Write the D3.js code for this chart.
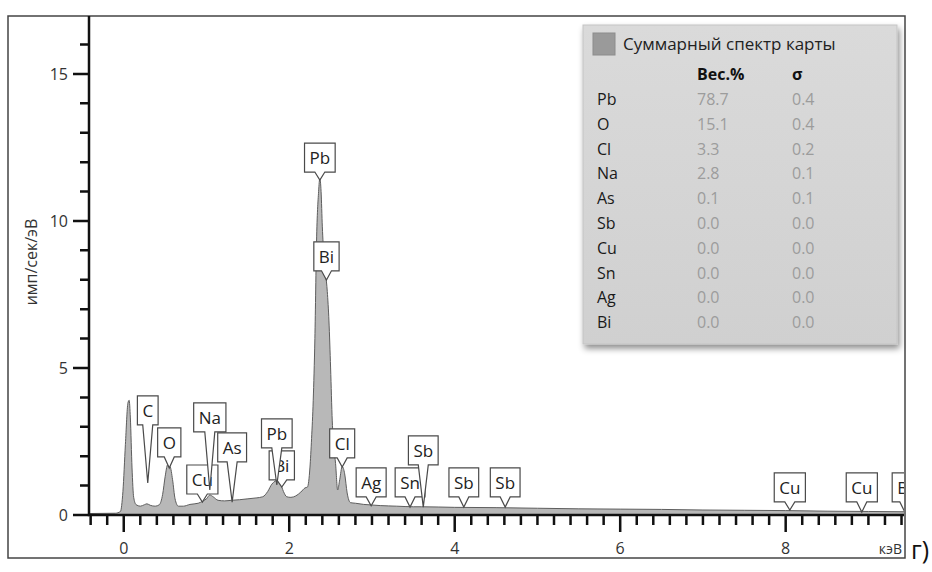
<!DOCTYPE html>
<html>
<head>
<meta charset="utf-8">
<script src="https://cdn.jsdelivr.net/npm/d3@7"></script>
<style>
  body { margin: 0; background: #fff; }
  svg { display: block; font-family: "Open Sans", sans-serif; }
</style>
</head>
<body>
<svg id="chart"></svg>
<script>
// spectrum (keV, imp/sec/eV)
const spectrumKeV = [-0.42, -0.10, -0.04, -0.01, 0.02, 0.05, 0.065, 0.08, 0.10, 0.12, 0.15, 0.20, 0.25, 0.28, 0.32, 0.38, 0.43, 0.47, 0.50, 0.53, 0.56, 0.59, 0.62, 0.66, 0.72, 0.80, 0.90, 0.96, 1.00, 1.04, 1.08, 1.14, 1.22, 1.30, 1.40, 1.50, 1.60, 1.68, 1.74, 1.79, 1.83, 1.86, 1.89, 1.93, 1.97, 2.02, 2.08, 2.14, 2.19, 2.22, 2.25, 2.27, 2.29, 2.31, 2.33, 2.355, 2.37, 2.385, 2.40, 2.42, 2.44, 2.46, 2.48, 2.50, 2.52, 2.54, 2.56, 2.585, 2.61, 2.64, 2.67, 2.70, 2.74, 2.80, 2.90, 3.00, 3.10, 3.30, 3.50, 3.60, 4.00, 4.50, 5.00, 5.50, 6.00, 6.50, 7.00, 7.50, 8.00, 8.50, 9.00, 9.45];
const spectrumCounts = [0.05, 0.06, 0.12, 0.8, 2.4, 3.8, 3.9, 3.3, 1.6, 0.6, 0.35, 0.30, 0.35, 0.38, 0.33, 0.30, 0.35, 0.7, 1.3, 1.7, 1.65, 1.2, 0.55, 0.30, 0.30, 0.36, 0.40, 0.48, 0.55, 0.68, 0.62, 0.50, 0.48, 0.50, 0.52, 0.55, 0.58, 0.62, 0.80, 1.05, 1.15, 1.18, 1.10, 0.80, 0.62, 0.60, 0.65, 0.78, 0.92, 0.95, 1.6, 2.6, 3.9, 6.0, 9.3, 11.0, 11.45, 11.0, 9.8, 8.8, 8.2, 7.6, 6.6, 5.0, 3.2, 2.3, 1.75, 0.85, 1.2, 1.65, 1.4, 0.75, 0.42, 0.40, 0.36, 0.34, 0.32, 0.30, 0.28, 0.28, 0.26, 0.25, 0.23, 0.21, 0.20, 0.19, 0.17, 0.16, 0.15, 0.13, 0.12, 0.11];

// peak markers: element, energy, tip height and box top (counts)
const peakElements = ["C", "O", "Cu", "Na", "As", "Bi", "Pb", "Pb", "Bi", "Cl", "Ag", "Sn", "Sb", "Sb", "Sb", "Cu", "Cu", "Bi"];
const peakKeV = [0.29, 0.55, 0.95, 1.04, 1.31, 1.91, 1.85, 2.37, 2.45, 2.64, 2.99, 3.46, 3.62, 4.11, 4.61, 8.05, 8.92, 9.44];
const peakTip = [1.09, 1.6, 0.44, 0.85, 0.44, 0.95, 1.02, 11.39, 7.99, 1.63, 0.31, 0.27, 0.27, 0.27, 0.27, 0.17, 0.10, 0.10];
const peakBoxTop = [4.05, 2.96, 1.70, 3.81, 2.79, 2.18, 3.27, 12.65, 9.29, 2.93, 1.60, 1.60, 2.69, 1.60, 1.60, 1.43, 1.43, 1.43];

// legend table
const legendTitle = "Суммарный спектр карты";
const legendElements = ["Pb", "O", "Cl", "Na", "As", "Sb", "Cu", "Sn", "Ag", "Bi"];
const legendWeight = ["78.7", "15.1", "3.3", "2.8", "0.1", "0.0", "0.0", "0.0", "0.0", "0.0"];
const legendSigma = ["0.4", "0.4", "0.2", "0.1", "0.1", "0.0", "0.0", "0.0", "0.0", "0.0"];

const xMajor = [0, 2, 4, 6, 8];
const xMinor = d3.range(-2, 48).map(i => i / 5).filter(v => !xMajor.includes(v));
const yMajor = [0, 5, 10, 15];
const yMinor = d3.range(1, 17).filter(v => !yMajor.includes(v));

const width = 932, height = 572;
const plotLeft = 89, plotRight = 904, plotTop = 16, plotBottom = 515;

const svg = d3.select("#chart").attr("width", width).attr("height", height);

const x = d3.scaleLinear().domain([-0.42, 9.43]).range([plotLeft, plotRight]);
const y = d3.scaleLinear().domain([0, 16.97]).range([plotBottom, plotTop]);

const defs = svg.append("defs");
defs.append("clipPath").attr("id", "plotClip")
    .append("rect").attr("x", plotLeft).attr("y", plotTop)
    .attr("width", plotRight - plotLeft).attr("height", plotBottom - plotTop);
const shadow = defs.append("filter").attr("id", "shadow")
    .attr("x", "-5%").attr("y", "-5%").attr("width", "115%").attr("height", "115%");
shadow.append("feDropShadow").attr("dx", 2).attr("dy", 4).attr("stdDeviation", 3)
    .attr("flood-color", "#000").attr("flood-opacity", 0.45);
const grad = defs.append("linearGradient").attr("id", "legendBg")
    .attr("x1", 0).attr("y1", 0).attr("x2", 0).attr("y2", 1);
grad.append("stop").attr("offset", 0).attr("stop-color", "#dadada");
grad.append("stop").attr("offset", 1).attr("stop-color", "#d0d0d0");

// outer frame
svg.append("rect")
    .attr("x", 8).attr("y", 16).attr("width", 897).attr("height", 542)
    .attr("fill", "none").attr("stroke", "#444").attr("stroke-width", 1.5);

// spectrum
const pts = spectrumKeV.map((e, i) => [e, spectrumCounts[i]]);
const plot = svg.append("g").attr("clip-path", "url(#plotClip)");
plot.append("path")
    .datum(pts)
    .attr("fill", "#b8b8b8")
    .attr("stroke", "#5e5e5e")
    .attr("stroke-width", 1)
    .attr("d", d3.area().x(d => x(d[0])).y0(y(0)).y1(d => y(d[1])).curve(d3.curveMonotoneX));

// peak labels
const boxH = 29;
const labels = plot.append("g").attr("class", "labels");
peakElements.forEach((el, i) => {
    const g = labels.append("g");
    const cx = x(peakKeV[i]);
    const tipY = y(peakTip[i]);
    const boxTop = y(peakBoxTop[i]);
    const boxBot = boxTop + boxH;
    const path = g.append("path");
    const txt = g.append("text")
        .attr("x", cx).attr("y", boxTop + 21)
        .attr("text-anchor", "middle")
        .attr("font-size", 17).attr("fill", "#222")
        .text(el);
    const w = txt.node().getComputedTextLength() + 10;
    const l = cx - w / 2, r = cx + w / 2;
    path.attr("d", `M${l},${boxTop}H${r}V${boxBot}H${cx + 5}L${cx},${tipY}L${cx - 5},${boxBot}H${l}Z`)
        .attr("fill", "#fff").attr("stroke", "#4a4a4a").attr("stroke-width", 1.2);
});

// axes: ticks as one path per axis, positions from the scales
const yTickPath = yMinor.map(v => `M${plotLeft - 9},${y(v)}H${plotLeft}`).join("")
    + yMajor.map(v => `M${plotLeft - 16},${y(v)}H${plotLeft}`).join("");
const xTickPath = xMinor.map(v => `M${x(v)},${plotBottom}V${plotBottom + 10}`).join("")
    + xMajor.map(v => `M${x(v)},${plotBottom}V${plotBottom + 17}`).join("");
const axisD = `M${plotLeft},${plotTop}V${plotBottom}H${plotRight}`;

svg.append("path").attr("d", yTickPath + xTickPath)
    .attr("fill", "none").attr("stroke", "#111").attr("stroke-width", 2.5);
svg.append("path").attr("d", axisD)
    .attr("fill", "none").attr("stroke", "#111").attr("stroke-width", 2.5);

svg.selectAll("text.ylab").data(yMajor).join("text").attr("class", "ylab")
    .attr("x", plotLeft - 21).attr("y", d => y(d)).attr("dy", "0.35em")
    .attr("text-anchor", "end").attr("font-size", 16).attr("fill", "#333")
    .text(d => d);
svg.selectAll("text.xlab").data(xMajor).join("text").attr("class", "xlab")
    .attr("x", d => x(d)).attr("y", 554)
    .attr("text-anchor", "middle").attr("font-size", 16).attr("fill", "#333")
    .text(d => d);

svg.append("text")
    .attr("transform", `translate(37,262) rotate(-90)`)
    .attr("text-anchor", "middle")
    .attr("font-size", 16).attr("fill", "#333")
    .text("имп/сек/эВ");

svg.append("text")
    .attr("x", 902).attr("y", 554)
    .attr("text-anchor", "end")
    .attr("font-size", 14).attr("fill", "#333")
    .text("кэВ");

svg.append("text")
    .attr("x", 911).attr("y", 559)
    .attr("font-size", 25).attr("fill", "#111")
    .text("г)");

// legend
const legend = svg.append("g");
legend.append("rect")
    .attr("x", 583).attr("y", 25).attr("width", 314).attr("height", 319)
    .attr("fill", "url(#legendBg)").attr("stroke", "#c4c4c4")
    .attr("filter", "url(#shadow)");
legend.append("rect")
    .attr("x", 593).attr("y", 33).attr("width", 22).attr("height", 22)
    .attr("fill", "#9a9a9a").attr("stroke", "#8c8c8c");
legend.append("text")
    .attr("x", 623).attr("y", 50)
    .attr("font-size", 17).attr("fill", "#222")
    .text(legendTitle);
legend.append("text")
    .attr("x", 697).attr("y", 80)
    .attr("font-size", 16).attr("font-weight", "bold").attr("fill", "#111")
    .text("Вес.%");
legend.append("text")
    .attr("x", 792).attr("y", 80)
    .attr("font-size", 16).attr("font-weight", "bold").attr("fill", "#111")
    .text("σ");
legendElements.forEach((el, i) => {
    const by = 105 + i * 24.8;
    legend.append("text").attr("x", 597).attr("y", by)
        .attr("font-size", 16).attr("fill", "#1a1a1a").text(el);
    legend.append("text").attr("x", 697).attr("y", by)
        .attr("font-size", 16).attr("fill", "#9c9c9c").text(legendWeight[i]);
    legend.append("text").attr("x", 792).attr("y", by)
        .attr("font-size", 16).attr("fill", "#9c9c9c").text(legendSigma[i]);
});
</script>
</body>
</html>
